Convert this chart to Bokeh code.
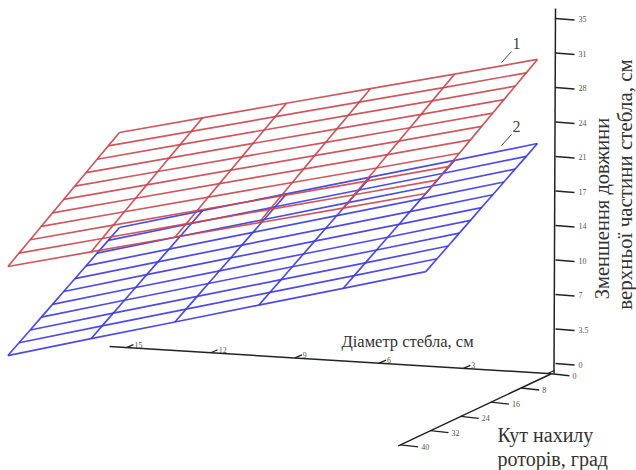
from math import pi
from bokeh.plotting import figure
from bokeh.models import Range1d
from bokeh.core.properties import value
from bokeh.embed import file_html
from bokeh.resources import INLINE

diameter_ticks = [15, 12, 9, 6, 3, 0]
diameter_labels = ["15", "12", "9", "6", "3", ""]
angle_ticks = [0, 8, 16, 24, 32, 40]
angle_labels = ["0", "8", "16", "24", "32", "40"]
height_ticks = [0, 3.5, 7, 10.5, 14, 17.5, 21, 24.5, 28, 31.5, 35]
height_labels = ["0", "3.5", "7", "10", "14", "17", "21", "24", "28", "31", "35"]

grid_diameter = [15.25, 12.29, 9.30, 6.31, 3.31, 0.36]
grid_angle = [0, 2.95, 5.9, 8.85, 11.8, 14.75, 17.7, 20.65, 23.6, 26.55, 29.5]

surface_1 = [
    [21.77, 23.77, 25.78, 27.78, 29.78, 31.79],
    [20.94, 22.94, 24.95, 26.95, 28.95, 30.96],
    [20.12, 22.12, 24.13, 26.13, 28.13, 30.14],
    [19.29, 21.29, 23.30, 25.30, 27.30, 29.31],
    [18.46, 20.46, 22.47, 24.47, 26.47, 28.48],
    [17.64, 19.64, 21.65, 23.65, 25.65, 27.66],
    [16.81, 18.81, 20.82, 22.82, 24.82, 26.83],
    [15.98, 17.98, 19.99, 21.99, 23.99, 26.00],
    [15.15, 17.15, 19.16, 21.16, 23.16, 25.17],
    [14.33, 16.33, 18.34, 20.34, 22.34, 24.35],
    [13.50, 15.50, 17.51, 19.51, 21.51, 23.52],
]
surface_2 = [
    [12.13, 14.36, 16.58, 18.81, 21.03, 23.26],
    [11.36, 13.59, 15.81, 18.04, 20.26, 22.49],
    [10.60, 12.83, 15.05, 17.28, 19.50, 21.73],
    [9.83, 12.06, 14.28, 16.51, 18.73, 20.96],
    [9.07, 11.30, 13.52, 15.75, 17.97, 20.20],
    [8.30, 10.53, 12.75, 14.98, 17.20, 19.43],
    [7.53, 9.76, 11.98, 14.21, 16.43, 18.66],
    [6.77, 9.00, 11.22, 13.45, 15.67, 17.90],
    [6.00, 8.23, 10.45, 12.68, 14.90, 17.13],
    [5.24, 7.47, 9.69, 11.92, 14.14, 16.37],
    [4.47, 6.70, 8.92, 11.15, 13.37, 15.60],
]

SERIF = value("Liberation Serif")


def px(d, a):
    return 547 - 28.07 * d - 3.78 * a


def py(d, a, z):
    return 373 - 1.73 * d + 1.78 * a - 9.86 * z


p = figure(width=636, height=470, x_range=Range1d(0, 636), y_range=Range1d(470, 0),
           output_backend="svg", toolbar_location=None,
           x_axis_location=None, y_axis_location=None, min_border=0)
p.grid.visible = False
p.outline_line_color = None


def draw_surface(table, color):
    xs, ys = [], []
    for i, a in enumerate(grid_angle):
        xs.append([px(d, a) for d in grid_diameter])
        ys.append([py(d, a, table[i][j]) for j, d in enumerate(grid_diameter)])
    for j, d in enumerate(grid_diameter):
        xs.append([px(d, a) for a in grid_angle])
        ys.append([py(d, a, table[i][j]) for i, a in enumerate(grid_angle)])
    p.multi_line(xs, ys, line_color=color, line_width=1.7, line_alpha=0.9)


draw_surface(surface_2, "#3a3ae0")
draw_surface(surface_1, "#c9474d")

AXIS = "#222222"
LABEL = "#555555"

# vertical axis
p.line([553.5, 555], [373, 8], line_color=AXIS, line_width=1.5)
hy = [363 - 9.86 * z for z in height_ticks]
p.segment([555] * len(hy), hy, [574] * len(hy), [y + 1.5 for y in hy], line_color=AXIS, line_width=1.5)
p.text([578] * len(hy), [y + 1 for y in hy], text=height_labels, text_font=SERIF, text_font_size="8px",
       text_color=LABEL, text_baseline="middle")

# diameter axis
p.line([px(15.6, 0), px(-0.14, 0)], [py(15.6, 0, 0), py(-0.14, 0, 0)], line_color=AXIS, line_width=1.5)
dx = [px(d, 0) for d in diameter_ticks]
dy = [py(d, 0, 0) for d in diameter_ticks]
p.segment(dx, dy, [x + 7 for x in dx], [y - 3 for y in dy], line_color=AXIS, line_width=1.3)
p.text([x + 8 for x in dx], [y - 3 for y in dy], text=diameter_labels, text_font=SERIF, text_font_size="8px",
       text_color=LABEL, text_baseline="middle")

# angle axis
p.line([px(-0.14, a) for a in [0, 40.5]], [py(-0.14, a, 0) for a in [0, 40.5]], line_color=AXIS, line_width=1.5)
ax = [px(-0.14, a) for a in angle_ticks]
ay = [py(-0.14, a, 0) for a in angle_ticks]
p.segment(ax, ay, [x + 18 for x in ax], [y + 2 for y in ay], line_color=AXIS, line_width=1.3)
p.text([x + 21 for x in ax], [y + 2 for y in ay], text=angle_labels, text_font=SERIF, text_font_size="8px",
       text_color=LABEL, text_baseline="middle")

# surface markers
p.segment([501, 501], [62, 145], [511, 511], [51, 134], line_color="#444444", line_width=1)
p.text([512, 512], [43, 126], text=["1", "2"], text_font=SERIF, text_font_size="16px",
       text_color="#444444", text_baseline="middle")

# titles
p.text([341], [341], text=["Діаметр стебла, см"], text_font=SERIF, text_font_size="16.5px",
       text_color="#333333", text_baseline="middle")
p.text([497, 497], [434, 458], text=["Кут нахилу", "роторів, град"], text_font=SERIF, text_font_size="20px",
       text_color="#333333", text_baseline="middle")
p.text([601], [208], text=["Зменшення довжини"], angle=pi / 2, text_font=SERIF, text_font_size="20.5px",
       text_color="#333333", text_baseline="middle", text_align="center")
p.text([624], [184], text=["верхньої частини стебла, см"], angle=pi / 2, text_font=SERIF, text_font_size="21px",
       text_color="#333333", text_baseline="middle", text_align="center")

open("out.html", "w").write(file_html(p, INLINE))
